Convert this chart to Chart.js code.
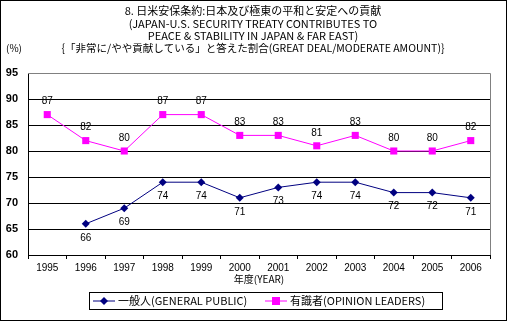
<!DOCTYPE html>
<html>
<head>
<meta charset="utf-8">
<script src="https://cdn.jsdelivr.net/npm/chart.js@4"></script>
<style>
  html, body { margin: 0; padding: 0; background: #fff; }
  canvas { display: block; }
</style>
</head>
<body>
<canvas id="chart" width="507" height="321"></canvas>
<script>
const years = ['1995','1996','1997','1998','1999','2000','2001','2002','2003','2004','2005','2006'];
const generalPublic = [null, 66, 69, 74, 74, 71, 73, 74, 74, 72, 72, 71];
const opinionLeaders = [87, 82, 80, 87, 87, 83, 83, 81, 83, 80, 80, 82];
const titleLines = [
	'8. 日米安保条約:日本及び極東の平和と安定への貢献',
	'(JAPAN-U.S. SECURITY TREATY CONTRIBUTES TO',
	'PEACE & STABILITY IN JAPAN & FAR EAST)',
	'{「非常に/やや貢献している」と答えた割合(GREAT DEAL/MODERATE AMOUNT)}'
];
const unitLabel = '(%)';
const xTitle = '年度(YEAR)';
const legendNames = ['一般人(GENERAL PUBLIC)', '有識者(OPINION LEADERS)'];

const NAVY = '#000080';
const PINK = '#ff00ff';
const FONT = '"Noto Sans CJK JP", "Liberation Sans", sans-serif';

function drawMarker(ctx, type, x, y, color) {
	ctx.fillStyle = color;
	ctx.beginPath();
	if (type === 'diamond') {
		ctx.moveTo(x, y - 4);
		ctx.lineTo(x + 4, y);
		ctx.lineTo(x, y + 4);
		ctx.lineTo(x - 4, y);
		ctx.closePath();
	} else {
		ctx.rect(x - 4, y - 4, 8, 8);
	}
	ctx.fill();
}

const decorPlugin = {
	id: 'decor',
	afterDatasetsDraw(chart) {
		const ctx = chart.ctx;
		const area = chart.chartArea;
		ctx.save();
		// top and right frame of the plot, grey
		ctx.strokeStyle = '#808080';
		ctx.lineWidth = 1;
		ctx.beginPath();
		ctx.moveTo(area.left, area.top + 0.5);
		ctx.lineTo(area.right + 0.5, area.top + 0.5);
		ctx.lineTo(area.right + 0.5, area.bottom);
		ctx.stroke();

		// value labels
		ctx.font = '10px "Liberation Sans", sans-serif';
		ctx.fillStyle = '#000';
		ctx.textAlign = 'center';
		ctx.textBaseline = 'middle';
		chart.getDatasetMeta(1).data.forEach((pt, i) => {
			if (opinionLeaders[i] == null) return;
			ctx.fillText(String(opinionLeaders[i]), pt.x, pt.y - 13);
		});
		chart.getDatasetMeta(0).data.forEach((pt, i) => {
			if (generalPublic[i] == null) return;
			ctx.fillText(String(generalPublic[i]), pt.x, pt.y + 14);
		});

		// titles
		const cx = 253;
		titleLines.forEach((t, i) => {
			ctx.font = (i === 3 ? '10.5px ' : '11px ') + FONT;
			ctx.fillText(t, cx, 11 + i * 12.5);
		});
		ctx.textAlign = 'left';
		ctx.font = '10px ' + FONT;
		ctx.fillText(unitLabel, 6, 48);

		// x axis title
		ctx.textAlign = 'center';
		ctx.font = '10px ' + FONT;
		ctx.fillText(xTitle, (area.left + area.right) / 2, 279);

		// legend box
		const lx = 89, ly = 292, lw = 353, lh = 17;
		ctx.strokeStyle = '#000';
		ctx.strokeRect(lx + 0.5, ly + 0.5, lw, lh);
		const my = ly + lh / 2 + 0.5;
		ctx.textAlign = 'left';
		ctx.font = '11px ' + FONT;
		const entries = [
			{x: lx + 4, color: NAVY, type: 'diamond', text: legendNames[0]},
			{x: lx + 176, color: PINK, type: 'square', text: legendNames[1]}
		];
		entries.forEach(e => {
			ctx.strokeStyle = e.color;
			ctx.lineWidth = 1;
			ctx.beginPath();
			ctx.moveTo(e.x, my);
			ctx.lineTo(e.x + 22, my);
			ctx.stroke();
			drawMarker(ctx, e.type, e.x + 11, my, e.color);
			ctx.fillStyle = '#000';
			ctx.fillText(e.text, e.x + 25, my);
		});

		// outer frame
		ctx.strokeStyle = '#000';
		ctx.lineWidth = 1;
		ctx.strokeRect(0.5, 0.5, 506, 320);
		ctx.restore();
	}
};

new Chart(document.getElementById('chart').getContext('2d'), {
	type: 'line',
	data: {
		labels: years,
		datasets: [
			{
				label: legendNames[0],
				data: generalPublic,
				borderColor: NAVY,
				backgroundColor: NAVY,
				borderWidth: 1,
				pointStyle: 'rectRot',
				pointRadius: 4,
				pointBorderWidth: 0,
				tension: 0
			},
			{
				label: legendNames[1],
				data: opinionLeaders,
				borderColor: PINK,
				backgroundColor: PINK,
				borderWidth: 1,
				pointStyle: 'rect',
				pointRadius: 5,
				pointBorderWidth: 0,
				tension: 0
			}
		]
	},
	options: {
		responsive: false,
		animation: false,
		devicePixelRatio: 1,
		layout: { padding: { top: 73, left: 0, right: 17, bottom: 0 } },
		plugins: { legend: { display: false }, tooltip: { enabled: false } },
		scales: {
			x: {
				offset: true,
				grid: { drawOnChartArea: false, drawTicks: true, tickLength: 4, color: '#000', offset: true },
				border: { color: '#000', width: 1 },
				ticks: { color: '#000', font: { size: 10, family: '"Liberation Sans", sans-serif' }, padding: 3, maxRotation: 0, autoSkip: false },
				afterFit(scale) { scale.height = 66; }
			},
			y: {
				min: 60,
				max: 95,
				grid: { color: (c) => c.tick.value === 95 ? 'rgba(0,0,0,0)' : '#000', drawTicks: false, lineWidth: 1 },
				border: { color: '#000', width: 1 },
				ticks: { stepSize: 5, color: '#000', font: { size: 11, weight: 'bold', family: '"Liberation Sans", sans-serif' }, padding: 10 },
				afterFit(scale) { scale.width = 28; }
			}
		}
	},
	plugins: [decorPlugin]
});
</script>
</body>
</html>
